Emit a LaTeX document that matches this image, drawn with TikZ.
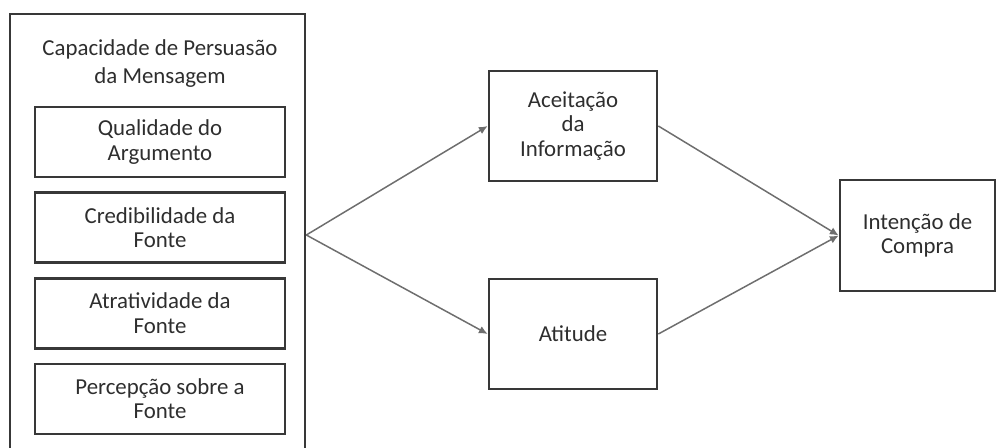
\documentclass[tikz,border=0pt]{standalone}
\usepackage{fontspec}
\setmainfont{Carlito}
\usepackage{tikz}
\usetikzlibrary{positioning,arrows.meta}

\definecolor{boxgray}{HTML}{383838}
\definecolor{linegray}{HTML}{6E6E6E}
\definecolor{textgray}{HTML}{2E2E2E}

\tikzset{
    bloco/.style={draw=boxgray, line width=1.5pt, inner sep=0pt, align=center,
        text=textgray, font=\fontsize{13}{13.8}\selectfont},
    fator/.style={bloco, minimum width=5cm, minimum height=1.4cm},
    efeito/.style={bloco, minimum width=3.36cm, minimum height=2.2cm},
    seta/.style={draw=linegray, line width=0.85pt, -{Latex[length=5pt,width=4.5pt]}}
}

\begin{document}
\begin{tikzpicture}
    \useasboundingbox (0,0) rectangle (19.92,8.94);
    \clip (0,0) rectangle (19.92,8.94);
    % bloco da mensagem
    \node [bloco, minimum width=5.9cm, minimum height=8.84cm] (msg) at (3.15,4.24) {};
    \node [text=textgray, align=center, font=\fontsize{13}{15.9}\selectfont] (titulo) at (3.2,7.66)
        {Capacidade de Persuasão\\da Mensagem};
    \node [fator] (arg) at (3.2,6.10) {Qualidade do\\Argumento};
    \node [fator, below=0.26cm of arg] (cred) {Credibilidade da\\Fonte};
    \node [fator, below=0.26cm of cred] (atra) {Atratividade da\\Fonte};
    \node [fator, below=0.26cm of atra] (perc) {Percepção sobre a\\Fonte};
    % mediadores
    \node [efeito] (aceit) at (11.46,6.42) {Aceitação\\da\\Informação};
    \node [efeito] (atit) at (11.46,2.26) {Atitude};
    \node [bloco, minimum width=3.1cm, minimum height=2.22cm] (compra) at (18.35,4.23)
        {Intenção de\\Compra};
    % setas
    \draw [seta] (msg.east) -- (aceit.west);
    \draw [seta] (msg.east) -- (atit.west);
    \draw [seta] (aceit.east) -- (compra.west);
    \draw [seta] (atit.east) -- (compra.west);
\end{tikzpicture}
\end{document}
